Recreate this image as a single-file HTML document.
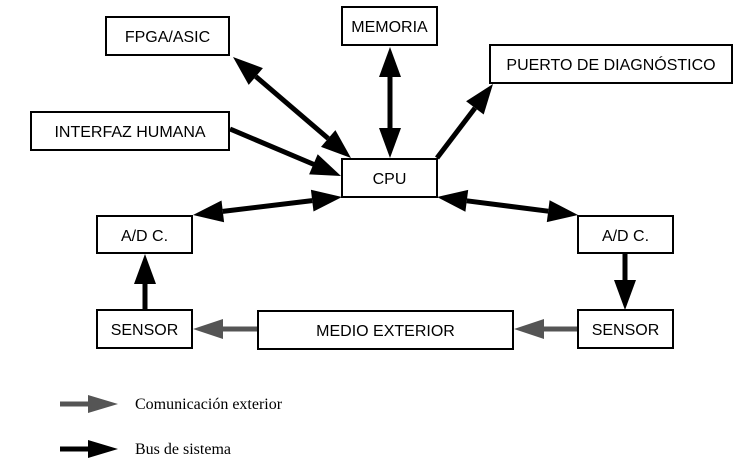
<!DOCTYPE html>
<html><head><meta charset="utf-8"><style>
html,body{margin:0;padding:0;background:#fff;}
svg{display:block;}
text{font-family:"Liberation Sans",sans-serif;font-size:16px;fill:#000;}
.s{font-family:"Liberation Serif",serif;font-size:16px;}
rect{fill:#fff;stroke:#000;stroke-width:2;}
</style></head><body>
<svg width="750" height="467" viewBox="0 0 750 467" xmlns="http://www.w3.org/2000/svg">
<g stroke="#000" stroke-width="5" fill="none">
<line x1="255.8" y1="76.5" x2="328.2" y2="138.5"/>
<line x1="390" y1="77" x2="390" y2="128"/>
<line x1="230" y1="129" x2="314" y2="164.5"/>
<line x1="437" y1="158" x2="475" y2="108"/>
<line x1="312.2" y1="200.6" x2="222.8" y2="211.4"/>
<line x1="466.8" y1="200.8" x2="548.2" y2="211.2"/>
<line x1="625" y1="253" x2="625" y2="282"/>
<line x1="145" y1="310" x2="145" y2="282"/>
<line x1="60" y1="449" x2="90" y2="449"/>
</g>
<g fill="#000">
<polygon points="351,158 321,146.9 335.4,130.1"/>
<polygon points="233,57 248.7,84.9 262.9,68.1"/>
<polygon points="390,47 379,77 401,77"/>
<polygon points="390,158 379,128 401,128"/>
<polygon points="341,176 309.1,174.4 317.7,154.2"/>
<polygon points="493,84 483.7,114.5 466.1,101.3"/>
<polygon points="193,215 221.5,200.5 224.1,222.3"/>
<polygon points="342,197 310.9,189.7 313.5,211.5"/>
<polygon points="578,215 546.8,222.1 549.6,200.3"/>
<polygon points="437,197 465.4,211.7 468.2,189.9"/>
<polygon points="625,310 614,280 636,280"/>
<polygon points="145,254 134,284 156,284"/>
<polygon points="118,449 88,440 88,458"/>
</g>
<g stroke="#555" stroke-width="5" fill="none">
<line x1="578" y1="329" x2="542" y2="329"/>
<line x1="258" y1="329" x2="221" y2="329"/>
<line x1="60" y1="404" x2="90" y2="404"/>
</g>
<g fill="#555">
<polygon points="514,329 544,319 544,339"/>
<polygon points="193,329 223,319 223,339"/>
<polygon points="118,404 88,395 88,413"/>
</g>
<rect x="106" y="17" width="123" height="38"/><text x="167.5" y="42" text-anchor="middle">FPGA/ASIC</text>
<rect x="342" y="7" width="95" height="38"/><text x="389.5" y="32" text-anchor="middle">MEMORIA</text>
<rect x="490" y="45" width="242" height="38"/><text x="611" y="70" text-anchor="middle">PUERTO DE DIAGNÓSTICO</text>
<rect x="31" y="112" width="198" height="38"/><text x="130" y="137" text-anchor="middle">INTERFAZ HUMANA</text>
<rect x="342" y="159" width="95" height="38"/><text x="389.5" y="184" text-anchor="middle">CPU</text>
<rect x="97" y="216" width="95" height="37"/><text x="144.5" y="241" text-anchor="middle">A/D C.</text>
<rect x="578" y="216" width="95" height="37"/><text x="625.5" y="241" text-anchor="middle">A/D C.</text>
<rect x="97" y="310" width="95" height="38"/><text x="144.5" y="335" text-anchor="middle">SENSOR</text>
<rect x="578" y="310" width="95" height="38"/><text x="625.5" y="335" text-anchor="middle">SENSOR</text>
<rect x="258" y="311" width="255" height="38"/><text x="385.5" y="336" text-anchor="middle">MEDIO EXTERIOR</text>
<text class="s" x="135" y="409">Comunicación exterior</text>
<text class="s" x="135" y="454">Bus de sistema</text>
</svg>
</body></html>
